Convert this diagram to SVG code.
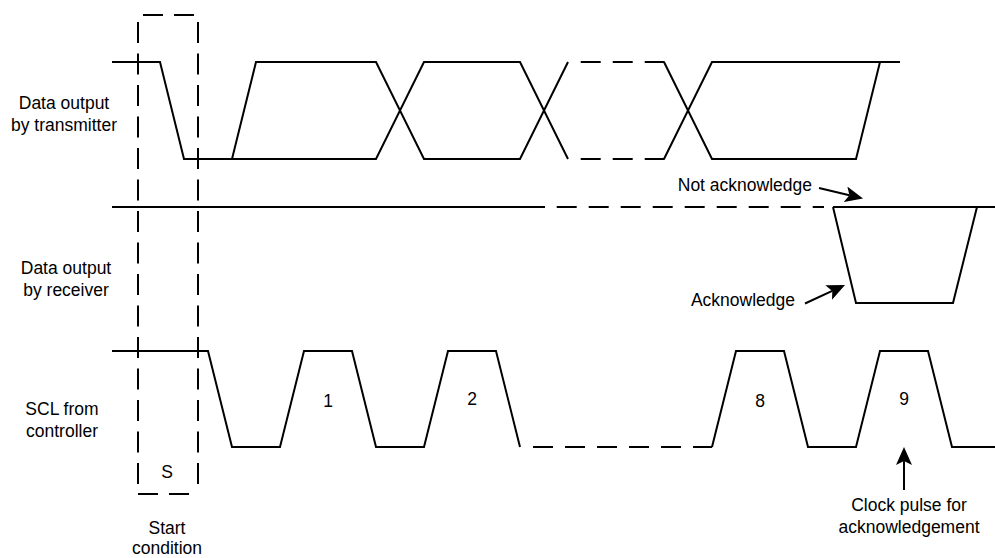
<svg xmlns="http://www.w3.org/2000/svg" width="995" height="558" viewBox="0 0 995 558">
<style>
.sig{fill:none;stroke:#000;stroke-width:2;stroke-linejoin:miter}
.dash{fill:none;stroke:#000;stroke-width:2;stroke-dasharray:20 12}
.box{fill:none;stroke:#000;stroke-width:2}
.lbl{font-family:"Liberation Sans",Arial,sans-serif;font-size:17.5px;fill:#000;text-anchor:middle}
.end{text-anchor:end}
.arr{fill:none;stroke:#000;stroke-width:2}
</style>
<defs>
<marker id="ah" viewBox="0 0 18 16" markerWidth="18" markerHeight="16" refX="4" refY="8" orient="auto" markerUnits="userSpaceOnUse">
<path d="M0,0 L18,8 L0,16 L4,8 Z" fill="#000"/>
</marker>
</defs>
<rect width="995" height="558" fill="#fff"/>
<g id="start-box">
<path class="box" d="M143,15 H195" stroke-dasharray="20 11"/>
<path class="box" d="M138,22 V490" stroke-dasharray="21 10.5"/>
<path class="box" d="M198,22 V492" stroke-dasharray="21 10.5"/>
<path class="box" d="M138,494 H190" stroke-dasharray="20 11"/>
<text class="lbl" x="167" y="478">S</text>
<text class="lbl" x="167" y="534">Start</text>
<text class="lbl" x="167" y="554">condition</text>
</g>
<g id="transmitter">
<text class="lbl" x="64" y="109">Data output</text>
<text class="lbl" x="64" y="131">by transmitter</text>
<path class="sig" d="M112,62 H160 L184,159 H376 L424,62 H520 L568,159"/>
<path class="sig" d="M232,159 L256,62 H376 L424,159 H520 L568,62"/>
<path class="dash" d="M580.7,62 H665"/>
<path class="dash" d="M580.7,159 H665"/>
<path class="sig" d="M664,62 L712,159 H856 L880,62"/>
<path class="sig" d="M664,159 L712,62 H900"/>
</g>
<g id="receiver">
<text class="lbl" x="66" y="274">Data output</text>
<text class="lbl" x="66" y="296">by receiver</text>
<path class="sig" d="M112,207 H545"/>
<path class="dash" d="M556.7,207 H824"/>
<path class="sig" d="M833,207 H995"/>
<path class="sig" d="M833,207 L856,303 H953 L977,207"/>
<text class="lbl end" x="812" y="191">Not acknowledge</text>
<text class="lbl end" x="795" y="306">Acknowledge</text>
</g>
<g id="scl">
<text class="lbl" x="62" y="415">SCL from</text>
<text class="lbl" x="62" y="437">controller</text>
<path class="sig" d="M112,351 H208 L232,447 H280 L304,351 H352 L376,447 H424 L448,351 H496 L520,447"/>
<path class="dash" d="M533,447 H712"/>
<path class="sig" d="M712,447 L736,351 H784 L808,447 H856 L880,351 H928 L952,447 H995"/>
<text class="lbl" x="328" y="407">1</text>
<text class="lbl" x="472" y="405">2</text>
<text class="lbl" x="760" y="407">8</text>
<text class="lbl" x="904" y="405">9</text>
<text class="lbl" x="909" y="511">Clock pulse for</text>
<text class="lbl" x="909" y="533">acknowledgement</text>
</g>
<g id="connectors">
<path class="arr" d="M819,188 L849.4,195.25" marker-end="url(#ah)"/>
<path class="arr" d="M805,303.5 L832.3,290.9" marker-end="url(#ah)"/>
<path class="arr" d="M904,490 L904,461" marker-end="url(#ah)"/>
</g>
</svg>
